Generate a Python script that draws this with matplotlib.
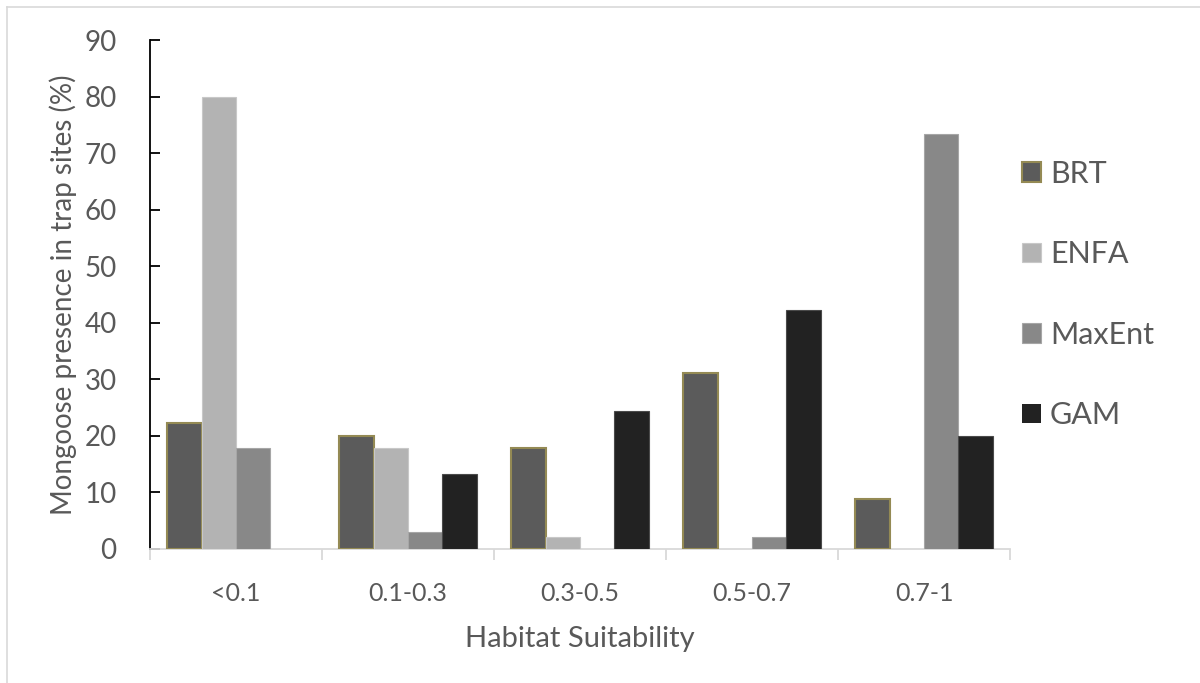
import numpy as np
import matplotlib.pyplot as plt
from matplotlib.lines import Line2D

plt.rcParams['font.family'] = ['Lato', 'DejaVu Sans']

categories = ['<0.1', '0.1-0.3', '0.3-0.5', '0.5-0.7', '0.7-1']
models = ['BRT', 'ENFA', 'MaxEnt', 'GAM']
brt = [22.2, 20.0, 17.8, 31.1, 8.9]
enfa = [80.0, 17.8, 2.2, 0.0, 0.0]
maxent = [17.8, 3.0, 0.0, 2.2, 73.3]
gam = [0.0, 13.3, 24.4, 42.2, 20.0]

values = [brt, enfa, maxent, gam]
colors = ['#5b5b5b', '#b3b3b3', '#888888', '#222222']
edges = ['#948a54', '#c8c8c8', '#a6a6a6', '#4a4a4a']
text_col = '#595959'

fig = plt.figure(figsize=(12, 6.83), dpi=100)
ax = fig.add_axes([0.125, 0.1962, 0.7167, 0.7452])

x = np.arange(len(categories))
w = 0.2
for k in range(len(models)):
    # no outline on empty bars
    ec = [edges[k] if v > 0 else 'none' for v in values[k]]
    ax.bar(x + (k - 1.5) * w, values[k], width=w, color=colors[k],
           edgecolor=ec, linewidth=1.5 if k == 0 else 0.8,
           label=models[k], zorder=3)

ax.set_xlim(-0.5, len(categories) - 0.5)
ax.set_ylim(0, 90)
ax.set_yticks(range(0, 91, 10))

for s in ['top', 'right']:
    ax.spines[s].set_visible(False)
ax.spines['left'].set_color('black')
ax.spines['left'].set_linewidth(1.3)
ax.spines['bottom'].set_color('#d9d9d9')
ax.spines['bottom'].set_linewidth(1.3)

ax.tick_params(axis='y', direction='in', length=7, width=1.3, color='black',
               labelsize=20, labelcolor=text_col, pad=24)
ax.set_xticks(x)
ax.set_xticklabels(categories)
ax.tick_params(axis='x', length=0, labelsize=18, labelcolor=text_col, pad=24)
ax.set_xticks(np.arange(-0.5, len(categories)), minor=True)
ax.tick_params(axis='x', which='minor', direction='out', length=8, width=1.3,
               color='#d9d9d9')

ax.set_xlabel('Habitat Suitability', fontsize=21, color=text_col, labelpad=15)
ax.set_ylabel('Mongoose presence in trap sites (%)', fontsize=20,
              color=text_col, labelpad=5)

leg = ax.legend(loc='center left', bbox_to_anchor=(1.0, 0.5), frameon=False,
                fontsize=22, handlelength=0.6, handleheight=0.6,
                labelspacing=1.72, handletextpad=0.3, borderpad=0.4,
                borderaxespad=0, labelcolor=text_col)

# light frame on top and left edges only
fig.add_artist(Line2D([0.0058, 1.0], [0.9898, 0.9898], transform=fig.transFigure,
                      color='#d9d9d9', linewidth=1.2))
fig.add_artist(Line2D([0.0058, 0.0058], [0.0, 0.9898], transform=fig.transFigure,
                      color='#d9d9d9', linewidth=1.2))

fig.savefig('out.png', dpi=100)
